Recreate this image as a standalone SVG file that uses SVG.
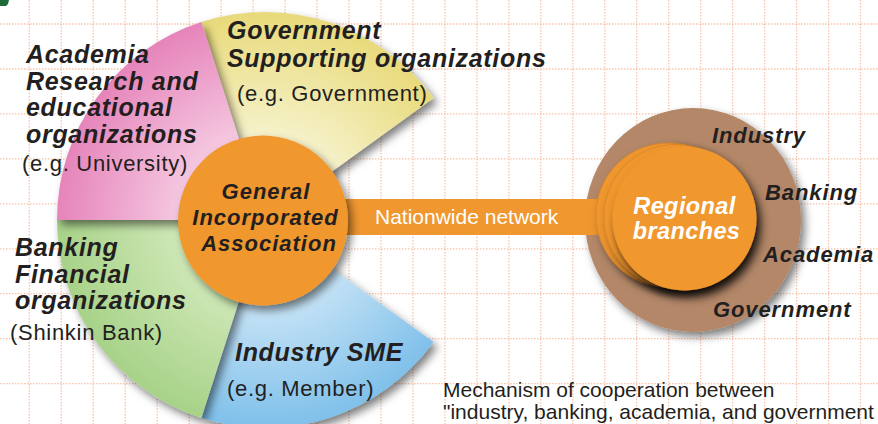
<svg xmlns="http://www.w3.org/2000/svg" width="878" height="424" viewBox="0 0 878 424">
<defs>
<style>
.grid{fill:none;stroke:#f4b08f;stroke-width:1.3;stroke-dasharray:1.5 1.5;opacity:0.75}
text{font-family:"Liberation Sans",Arial,sans-serif;fill:#231f20}
.h{font-size:25px;font-weight:bold;font-style:italic;letter-spacing:0.7px}
.r{font-size:22px;letter-spacing:0.7px}
.c{font-size:22px;font-weight:bold;font-style:italic;letter-spacing:1px;text-anchor:middle}
.w{font-size:23.5px;font-weight:bold;font-style:italic;letter-spacing:0.4px;text-anchor:middle;fill:#ffffff}
.l{font-size:22px;font-weight:bold;font-style:italic;letter-spacing:0.9px}
.cap{font-size:21px}
.nw{font-size:21px;fill:#ffffff}
.org{fill:#f0972f}
</style>
<filter id="sh" x="-20%" y="-20%" width="150%" height="150%">
<feDropShadow dx="4" dy="5" stdDeviation="4" flood-color="#000" flood-opacity="0.5"/>
</filter>
<filter id="sh2" x="-20%" y="-20%" width="150%" height="150%">
<feDropShadow dx="4" dy="7" stdDeviation="5" flood-color="#000" flood-opacity="0.85"/>
</filter>
<radialGradient id="gPink" gradientUnits="userSpaceOnUse" cx="265" cy="220" r="208">
<stop offset="0.4" stop-color="#f5c9e1"/><stop offset="1" stop-color="#e684ba"/>
</radialGradient>
<radialGradient id="gYel" gradientUnits="userSpaceOnUse" cx="265" cy="220" r="208">
<stop offset="0.4" stop-color="#f6f2cb"/><stop offset="1" stop-color="#e8da7a"/>
</radialGradient>
<radialGradient id="gGrn" gradientUnits="userSpaceOnUse" cx="265" cy="220" r="208">
<stop offset="0.4" stop-color="#cfe8b7"/><stop offset="1" stop-color="#a7d288"/>
</radialGradient>
<radialGradient id="gBlu" gradientUnits="userSpaceOnUse" cx="265" cy="220" r="208">
<stop offset="0.4" stop-color="#c8e4f6"/><stop offset="1" stop-color="#7fc0ea"/>
</radialGradient>
</defs>
<rect width="878" height="424" fill="#ffffff"/>
<g id="grid">
<path class="grid" d="M29.3 0V424M61.3 0V424M93.2 0V424M125.2 0V424M157.2 0V424M189.2 0V424M221.1 0V424M253.1 0V424M285.1 0V424M317 0V424M349 0V424M381 0V424M413 0V424M444.9 0V424M476.9 0V424M508.9 0V424M540.8 0V424M572.8 0V424M604.8 0V424M636.7 0V424M668.7 0V424M700.7 0V424M732.6 0V424M764.6 0V424M796.6 0V424M828.6 0V424M860.5 0V424"/>
<path class="grid" d="M0 24H878M0 69H878M0 113.9H878M0 158.9H878M0 203.8H878M0 248.8H878M0 293.7H878M0 338.7H878M0 383.6H878"/>
</g>
<polygon points="0,0 9,0 8,4 6,6 0,6" fill="#1f6b3a"/>
<g id="pie">
<path id="wedge-government" d="M265 220L201.3 22A208 208 0 0 1 433.5 98.1Z" fill="url(#gYel)" filter="url(#sh)"/>
<path id="wedge-industry" d="M265 220L433.5 341.9A208 208 0 0 1 201.3 418Z" fill="url(#gBlu)" filter="url(#sh)"/>
<path id="wedge-banking" d="M265 220L201.3 418A208 208 0 0 1 57 220Z" fill="url(#gGrn)" filter="url(#sh)"/>
<path id="wedge-academia" d="M265 220L57 220A208 208 0 0 1 201.3 22Z" fill="url(#gPink)" filter="url(#sh)"/>
</g>
<g id="regional">
<ellipse cx="693" cy="220" rx="108" ry="112" fill="#b38768" filter="url(#sh)"/>
</g>
<g id="connectors">
<rect x="300" y="199" width="305" height="36" class="org"/>
<text class="nw" x="375" y="224">Nationwide network</text>
</g>
<g id="regional-branches">
<circle cx="668" cy="215" r="72" class="org" stroke="#d98428" stroke-width="0.8" filter="url(#sh)"/>
<circle cx="676" cy="216.5" r="72" class="org" stroke="#d98428" stroke-width="0.8" filter="url(#sh)"/>
<circle cx="684.5" cy="218.5" r="72" class="org" filter="url(#sh2)"/>
<text class="w" x="684.5" y="213.5">Regional</text>
<text class="w" x="686.5" y="238.5">branches</text>
</g>
<g id="regional-labels">
<text class="l" x="712" y="142.5">Industry</text>
<text class="l" x="765" y="199.5">Banking</text>
<text class="l" x="763" y="261.5">Academia</text>
<text class="l" x="713" y="316.5">Government</text>
</g>
<g id="general">
<circle cx="263" cy="220.5" r="85" class="org" filter="url(#sh)"/>
<text class="c" x="266" y="198.5">General</text>
<text class="c" x="265.5" y="225">Incorporated</text>
<text class="c" x="269" y="251">Association</text>
</g>
<g id="academia-label">
<text class="h" x="26" y="63">Academia</text>
<text class="h" x="26" y="89.5">Research and</text>
<text class="h" x="26" y="116">educational</text>
<text class="h" x="26" y="142.5">organizations</text>
<text class="r" x="22" y="170.5">(e.g. University)</text>
</g>
<g id="government-label">
<text class="h" x="227" y="38.5">Government</text>
<text class="h" x="227" y="66.5">Supporting organizations</text>
<text class="r" x="237" y="100.5">(e.g. Government)</text>
</g>
<g id="banking-label">
<text class="h" x="15" y="256">Banking</text>
<text class="h" x="15" y="282.5">Financial</text>
<text class="h" x="15" y="309">organizations</text>
<text class="r" x="10" y="340">(Shinkin Bank)</text>
</g>
<g id="industry-label">
<text class="h" x="235" y="360.5">Industry SME</text>
<text class="r" x="227" y="395.5">(e.g. Member)</text>
</g>
<g id="caption">
<text class="cap" x="443" y="396.5">Mechanism of cooperation between</text>
<text class="cap" x="443" y="419">"industry, banking, academia, and government</text>
</g>
</svg>
